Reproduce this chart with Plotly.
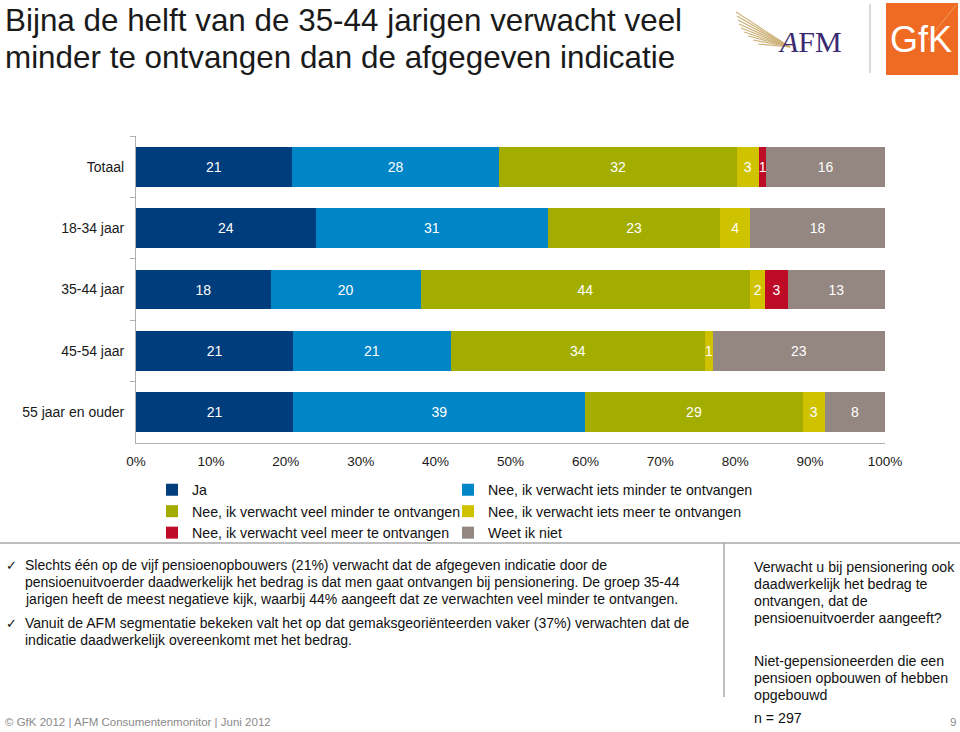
import plotly.graph_objects as go

W, H = 960, 732

categories = ["Totaal", "18-34 jaar", "35-44 jaar", "45-54 jaar", "55 jaar en ouder"]
series_names = [
    "Ja",
    "Nee, ik verwacht iets minder te ontvangen",
    "Nee, ik verwacht veel minder te ontvangen",
    "Nee, ik verwacht iets meer te ontvangen",
    "Nee, ik verwacht veel meer te ontvangen",
    "Weet ik niet",
]
ja = [21, 24, 18, 21, 21]
iets_minder = [28, 31, 20, 21, 39]
veel_minder = [32, 23, 44, 34, 29]
iets_meer = [3, 4, 2, 1, 3]
veel_meer = [1, None, 3, None, None]
weet_niet = [16, 18, 13, 23, 8]
series_values = [ja, iets_minder, veel_minder, iets_meer, veel_meer, weet_niet]
colors = ["#003d7c", "#0085c7", "#a3ad00", "#cfc300", "#be0b26", "#948680"]
# which legend column each series sits in (reference: 2 columns, row-wise order)
legend_ids = ["legend", "legend2", "legend", "legend2", "legend", "legend2"]
xticks = [0, 10, 20, 30, 40, 50, 60, 70, 80, 90, 100]

title_lines = ["Bijna de helft van de 35-44 jarigen verwacht veel",
               "minder te ontvangen dan de afgegeven indicatie"]
bullet1_lines = [
    "Slechts één op de vijf pensioenopbouwers (21%) verwacht dat de afgegeven indicatie door de",
    "pensioenuitvoerder daadwerkelijk het bedrag is dat men gaat ontvangen bij pensionering. De groep 35-44",
    "jarigen heeft de meest negatieve kijk, waarbij 44% aangeeft dat ze verwachten veel minder te ontvangen.",
]
bullet2_lines = [
    "Vanuit de AFM segmentatie bekeken valt het op dat gemaksgeoriënteerden vaker (37%) verwachten dat de",
    "indicatie daadwerkelijk overeenkomt met het bedrag.",
]
side1_lines = ["Verwacht u bij pensionering ook", "daadwerkelijk het bedrag te",
               "ontvangen, dat de", "pensioenuitvoerder aangeeft?"]
side2_lines = ["Niet-gepensioneerden die een", "pensioen opbouwen of hebben", "opgebouwd"]
sample_text = "n = 297"
footer_text = "© GfK 2012 | AFM Consumentenmonitor | Juni 2012"
page_number = "9"

FONT = "Liberation Sans, Arial, sans-serif"


def px_x(x):
    return x / W


def px_y(y):
    return 1 - y / H


fig = go.Figure()
for name, vals, col, lg in zip(series_names, series_values, colors, legend_ids):
    fig.add_trace(go.Bar(
        y=categories, x=vals, name=name, orientation="h",
        marker=dict(color=col, line=dict(width=0)),
        text=[("" if v is None else str(v)) for v in vals],
        texttemplate="%{text}", textposition="inside", insidetextanchor="middle",
        textangle=0, textfont=dict(color="white", size=14, family=FONT),
        hoverinfo="skip", legend=lg,
    ))

legend_common = dict(
    orientation="v", xanchor="left", yanchor="top", traceorder="normal",
    font=dict(size=14.2, color="#111111", family=FONT),
    itemclick=False, itemdoubleclick=False, bgcolor="rgba(0,0,0,0)",
)

fig.update_layout(
    width=W, height=H,
    margin=dict(l=0, r=0, t=0, b=0, autoexpand=False),
    paper_bgcolor="white", plot_bgcolor="white",
    barmode="stack", barnorm="percent", bargap=0.35,
    uniformtext=dict(minsize=14, mode="show"),
    font=dict(family=FONT, color="#1a1a1a"),
    xaxis=dict(
        domain=[px_x(136), px_x(885)], range=[0, 100],
        tickvals=xticks, ticktext=[f"{v}%" for v in xticks],
        showgrid=False, zeroline=False, showline=True, linecolor="#b0b0b0",
        ticks="", tickfont=dict(size=13.5, color="#1a1a1a"), ticklabelstandoff=6,
        fixedrange=True,
    ),
    yaxis=dict(
        domain=[px_y(443), px_y(136)], autorange="reversed",
        showline=True, linecolor="#b0b0b0", ticks="outside", tickson="boundaries",
        ticklen=5, tickcolor="#b0b0b0", showgrid=False,
        tickfont=dict(size=14, color="#1a1a1a"), ticklabelstandoff=8,
        fixedrange=True,
    ),
    legend=dict(x=px_x(152), y=px_y(474), **legend_common),
    legend2=dict(x=px_x(448), y=px_y(474), **legend_common),
    showlegend=True,
)

annotations = []


def add_lines(lines, x, y0, step, font):
    for i, line in enumerate(lines):
        annotations.append(dict(
            text=line, xref="paper", yref="paper", x=px_x(x), y=px_y(y0 + i * step),
            xanchor="left", yanchor="middle", align="left", showarrow=False, font=font,
        ))


title_font = dict(size=31.4, color="#1a1a1a", family=FONT)
add_lines(title_lines, 3, 21, 37, title_font)

bullet_font = dict(size=14, color="#111111", family=FONT)
for yy in (565, 623):
    annotations.append(dict(text="✓", xref="paper", yref="paper", x=px_x(4), y=px_y(yy),
                            xanchor="left", yanchor="middle", showarrow=False,
                            font=dict(size=13, color="#111111", family="DejaVu Sans")))
add_lines(bullet1_lines, 23, 565, 17, bullet_font)
add_lines(bullet2_lines, 23, 623, 17, bullet_font)

side_font = dict(size=14.2, color="#111111", family=FONT)
add_lines(side1_lines, 752, 567, 17, side_font)
add_lines(side2_lines, 752, 661, 17, side_font)
add_lines([sample_text], 752, 718, 17, side_font)

foot_font = dict(size=11.5, color="#8a8a8a", family=FONT)
add_lines([footer_text], 3, 722, 17, foot_font)
annotations.append(dict(
    text=page_number, xref="paper", yref="paper", x=px_x(958), y=px_y(722), xanchor="right",
    yanchor="middle", showarrow=False, font=foot_font,
))
# Logos text
annotations.append(dict(
    text="<i>A</i>FM", xref="paper", yref="paper", x=px_x(810), y=px_y(41),
    xanchor="center", yanchor="middle", showarrow=False,
    font=dict(size=30, color="#3b2a72", family="Liberation Serif, serif"),
))
annotations.append(dict(
    text="GfK", xref="paper", yref="paper", x=px_x(921), y=px_y(40),
    xanchor="center", yanchor="middle", showarrow=False,
    font=dict(size=36, color="#ffffff", family="Liberation Sans Narrow, Liberation Sans, sans-serif"),
))
fig.update_layout(annotations=annotations)

shapes = []
# separators
shapes.append(dict(type="line", xref="paper", yref="paper", x0=0, x1=1, y0=px_y(543), y1=px_y(543),
                   line=dict(color="#a8a8a8", width=1.5)))
shapes.append(dict(type="line", xref="paper", yref="paper", x0=px_x(724), x1=px_x(724),
                   y0=px_y(543), y1=px_y(697), line=dict(color="#a8a8a8", width=1.5)))
shapes.append(dict(type="line", xref="paper", yref="paper", x0=px_x(870), x1=px_x(870),
                   y0=px_y(4), y1=px_y(73), line=dict(color="#b5b5b5", width=1)))
# GfK square
shapes.append(dict(type="rect", xref="paper", yref="paper", x0=px_x(886), x1=px_x(958),
                   y0=px_y(75), y1=px_y(3), fillcolor="#ef6a23", line=dict(width=0), layer="below"))
shapes.append(dict(type="line", xref="paper", yref="paper", x0=px_x(928), x1=px_x(956),
                   y0=px_y(40), y1=px_y(5), line=dict(color="#f59a60", width=1)))
# AFM feather fan
fan_starts = [(736, 12), (737, 16), (738, 20), (739, 24), (741, 28), (744, 32), (748, 36), (753, 40), (758, 44)]
for (sx, sy) in fan_starts:
    shapes.append(dict(type="line", xref="paper", yref="paper", x0=px_x(sx), y0=px_y(sy),
                       x1=px_x(790), y1=px_y(47), line=dict(color="#cdb27a", width=1.2)))
fig.update_layout(shapes=shapes)

fig.write_html(
    "out.html",
    config={"displayModeBar": False, "staticPlot": False},
    post_script="document.body.style.margin='0';document.body.style.padding='0';"
                "document.documentElement.style.overflow='hidden';",
)
